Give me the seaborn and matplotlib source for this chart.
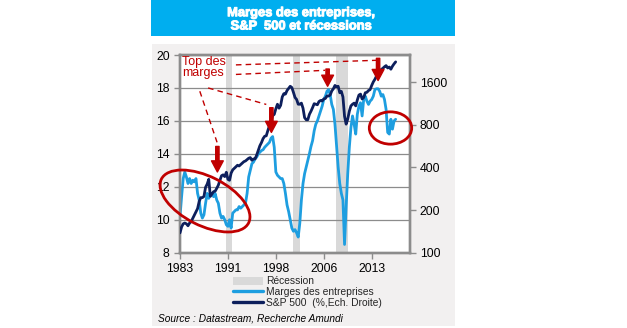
import numpy as np
import pandas as pd
import matplotlib
matplotlib.use("Agg")
import matplotlib.pyplot as plt
import matplotlib.patheffects as pe
import seaborn as sns
from matplotlib.patches import Rectangle, Ellipse, Patch
from matplotlib.lines import Line2D
from matplotlib.transforms import IdentityTransform

# ---------------- data ----------------
start_year = 1983
periods_per_year = 4

margins = [
    10.2, 11.4, 12.5, 12.9,   # 1983
    12.6, 12.2, 12.5, 12.2,   # 1984
    12.4, 12.3, 12.5, 11.6,   # 1985
    11.2, 10.4, 10.1, 10.3,   # 1986
    11.0, 11.6, 11.3, 11.6,   # 1987
    11.6, 11.4, 11.6, 11.2,   # 1988
    11.0, 10.4, 10.1, 10.2,   # 1989
    10.0, 9.7, 9.6, 10.0,     # 1990
    9.5, 10.4, 10.5, 10.6,    # 1991
    10.6, 10.8, 10.7, 10.8,   # 1992
    10.9, 11.0, 11.6, 12.6,   # 1993
    13.0, 13.4, 13.5, 13.7,   # 1994
    13.8, 14.0, 14.1, 14.2,   # 1995
    14.25, 14.4, 14.5, 14.6,  # 1996
    14.7, 14.95, 15.05, 14.4, # 1997
    12.9, 12.7, 12.6, 12.5,   # 1998
    12.5, 12.2, 11.6, 10.9,   # 1999
    10.5, 10.0, 9.5, 9.3,     # 2000
    9.4, 9.2, 8.95, 9.8,      # 2001
    11.2, 12.2, 12.8, 13.2,   # 2002
    13.6, 14.0, 14.45, 14.8,  # 2003
    15.4, 15.8, 16.0, 16.3,   # 2004
    16.6, 16.9, 17.3, 17.5,   # 2005
    17.8, 17.9, 17.6, 17.0,   # 2006
    16.7, 15.8, 14.5, 13.2,   # 2007
    12.2, 11.6, 11.2, 8.5,    # 2008
    10.8, 12.8, 14.4, 15.6,   # 2009
    16.3, 15.8, 15.2, 16.4,   # 2010
    16.9, 17.1, 16.3, 17.3,   # 2011
    17.5, 17.2, 17.0, 17.2,   # 2012
    17.3, 17.5, 17.9, 17.95,  # 2013
    17.95, 17.8, 17.5, 17.6,  # 2014
    17.3, 16.7, 15.3, 15.2,   # 2015
    16.1, 15.5, 16.0, 16.1,   # 2016
]

sp500 = [
    138, 152, 160, 162,       # 1983
    160, 155, 162, 166,       # 1984
    175, 185, 195, 205,       # 1985
    230, 245, 245, 250,       # 1986
    290, 305, 330, 250,       # 1987
    260, 270, 272, 285,       # 1988
    300, 325, 350, 355,       # 1989
    345, 370, 330, 325,       # 1990
    365, 385, 395, 405,       # 1991
    415, 410, 420, 430,       # 1992
    440, 445, 455, 465,       # 1993
    470, 450, 460, 460,       # 1994
    490, 530, 570, 600,       # 1995
    640, 665, 670, 730,       # 1996
    790, 850, 930, 950,       # 1997
    1040, 1120, 1050, 1100,   # 1998
    1260, 1330, 1320, 1400,   # 1999
    1450, 1500, 1470, 1360,   # 2000
    1250, 1210, 1120, 1120,   # 2001
    1140, 1050, 900, 870,     # 2002
    870, 950, 1000, 1060,     # 2003
    1130, 1120, 1110, 1170,   # 2004
    1190, 1180, 1220, 1230,   # 2005
    1280, 1280, 1300, 1390,   # 2006
    1440, 1520, 1490, 1500,   # 2007
    1350, 1380, 1260, 920,    # 2008
    810, 880, 1000, 1090,     # 2009
    1120, 1140, 1090, 1200,   # 2010
    1300, 1320, 1220, 1250,   # 2011
    1350, 1360, 1400, 1420,   # 2012
    1520, 1610, 1680, 1770,   # 2013
    1830, 1900, 1970, 2010,   # 2014
    2060, 2100, 2020, 2050,   # 2015
    1980, 2080, 2160, 2230,   # 2016
]

recessions = [(1990.2, 1991.1), (2000.7, 2001.75), (2007.4, 2009.25)]

left_ticks = [8, 10, 12, 14, 16, 18, 20]
right_ticks = [100, 200, 400, 800, 1600]
x_tick_pos = [1983, 1990.5, 1998, 2005.5, 2013]
x_tick_labels = ["1983", "1991", "1998", "2006", "2013"]

title_lines = ["Marges des entreprises,", "S&P  500 et récessions"]
label_recession = "Récession"
label_margins = "Marges des entreprises"
label_sp = "S&P 500  (%,Ech. Droite)"
annot_text = "Top des\nmarges"
source_text = "Source : Datastream, Recherche Amundi"

# annotation anchors (year, left-axis value)
arrows = [(1988.85, 14.45, 12.9), (1997.3, 16.8, 15.3),
          (2006.1, 19.15, 18.1), (2014.0, 19.8, 18.45)]
dashes = [((1991.75, 19.4), (2013.9, 19.68)),
          ((1991.75, 18.82), (2005.7, 19.07)),
          ((1986.1, 17.8), (1988.8, 14.7)),
          ((1987.4, 18.0), (1996.5, 17.0))]

# ---------------- style ----------------
sns.set_style("white")
plt.rcParams["font.family"] = ["Liberation Sans", "DejaVu Sans"]

W, H, DPI = 627, 328, 100
LIGHT = "#1E9EE0"
NAVY = "#0D1F5C"
RED = "#C00000"
GRID = "#8C8C8C"
PANEL = "#F2F0F0"
TITLE_BG = "#00AEEF"
REC = "#D9D9D9"

n = len(margins)
years = start_year + np.arange(n) / periods_per_year
df = pd.DataFrame({"year": years, "margins": margins, "sp500": sp500})

fig = plt.figure(figsize=(W / DPI, H / DPI), dpi=DPI, facecolor="white")

def px(x, y):
    return x / W, 1 - y / H

# background panel and title box
fig.patches.append(Rectangle(px(152, 326), (455 - 152) / W, (326 - 44) / H,
                             transform=fig.transFigure, facecolor=PANEL,
                             edgecolor="none", zorder=-2))
fig.patches.append(Rectangle(px(151, 35.7), (455 - 151) / W, 35.7 / H,
                             transform=fig.transFigure, facecolor=TITLE_BG,
                             edgecolor="none", zorder=-2))
thick = [pe.withStroke(linewidth=0.7, foreground="white")]
fig.text(301 / W, 1 - 16.2 / H, title_lines[0], ha="center", va="baseline",
         color="white", fontsize=9.3, fontweight="bold", path_effects=thick)
fig.text(301 / W, 1 - 29.5 / H, title_lines[1], ha="center", va="baseline",
         color="white", fontsize=9.3, fontweight="bold", path_effects=thick)

x0p, x1p, y0p, y1p = 180, 409.5, 55, 252.7
ax = fig.add_axes([x0p / W, 1 - y1p / H, (x1p - x0p) / W, (y1p - y0p) / H])
ax.set_facecolor("white")

px_per_year = 6.39
xmax = start_year + (x1p - x0p) / px_per_year
ax.set_xlim(start_year, xmax)
ax.set_ylim(8, 20)

for a, b in recessions:
    ax.axvspan(a, b, color=REC, lw=0, zorder=0.2)

ax.set_yticks(left_ticks)
ax.yaxis.grid(True, color=GRID, lw=0.9, zorder=0.5)
ax.xaxis.grid(False)
ax.set_axisbelow(True)

sns.lineplot(data=df, x="year", y="margins", ax=ax, color=LIGHT, lw=2.0,
             legend=False, zorder=2)

ax2 = ax.twinx()
ax2.set_yscale("log", base=2)
ymax2 = 100 * 2 ** ((y1p - y0p) / 42.6)
sns.lineplot(data=df, x="year", y="sp500", ax=ax2, color=NAVY, lw=2.0,
             legend=False, zorder=3)
ax2.set_ylim(100, ymax2)
ax2.set_xlim(start_year, xmax)
ax2.set_yticks(right_ticks)
ax2.set_yticklabels([str(v) for v in right_ticks])
ax2.yaxis.set_minor_locator(matplotlib.ticker.NullLocator())

ax.set_xticks(x_tick_pos)
ax.set_xticklabels(x_tick_labels)
for a_ in (ax, ax2):
    a_.set_xlabel("")
    a_.set_ylabel("")
    for s in a_.spines.values():
        s.set_color(GRID)
        s.set_linewidth(1.7)
ax.tick_params(axis="both", which="major", direction="out", length=4,
               width=1, color=GRID, labelsize=8.8, pad=3.5, labelcolor="black",
               left=True, bottom=True)
ax2.tick_params(axis="y", which="major", direction="out", length=4, width=1,
                color=GRID, labelsize=8.8, pad=3.5, labelcolor="black", right=True)

# annotations (on top)
for xa, ytop, ytip in arrows:
    ax2.annotate("", xy=(xa, ytip), xytext=(xa, ytop), xycoords=ax.transData,
                 textcoords=ax.transData,
                 arrowprops=dict(arrowstyle="simple,head_length=0.8,head_width=0.85,tail_width=0.24",
                                 color=RED, mutation_scale=10, shrinkA=0, shrinkB=0),
                 zorder=6)
for (xa, ya), (xb, yb) in dashes:
    ax2.plot([xa, xb], [ya, yb], transform=ax.transData, color=RED, lw=1.0,
             ls=(0, (4, 3)), zorder=5)
ax2.text(1983.3, 19.95, annot_text, transform=ax.transData, ha="left", va="top",
         color=RED, fontsize=9, linespacing=0.95, zorder=6)

# ellipses in pixel space
for cx, cy, w, h, ang in [(205, 201, 97.6, 49, -26.7), (390.5, 128, 42.4, 32.3, 0)]:
    e = Ellipse((cx, H - cy), w, h, angle=ang, transform=IdentityTransform(),
                fill=False, edgecolor=RED, lw=2.0, zorder=7)
    fig.patches.append(e)

# legend
handles = [Patch(facecolor=REC, edgecolor="none"),
           Line2D([], [], color=LIGHT, lw=2.4),
           Line2D([], [], color=NAVY, lw=2.4)]
fig.legend(handles, [label_recession, label_margins, label_sp],
           loc="upper left", bbox_to_anchor=px(233, 276.5),
           bbox_transform=fig.transFigure, frameon=False, fontsize=7.4,
           handlelength=2.95, handleheight=0.9, handletextpad=0.25,
           labelspacing=0.08, borderpad=0, borderaxespad=0)

fig.text(158 / W, 1 - 321.5 / H, source_text, ha="left", va="baseline",
         fontsize=7.3, fontstyle="italic", color="black")

fig.savefig("out.png", dpi=DPI, facecolor="white")
